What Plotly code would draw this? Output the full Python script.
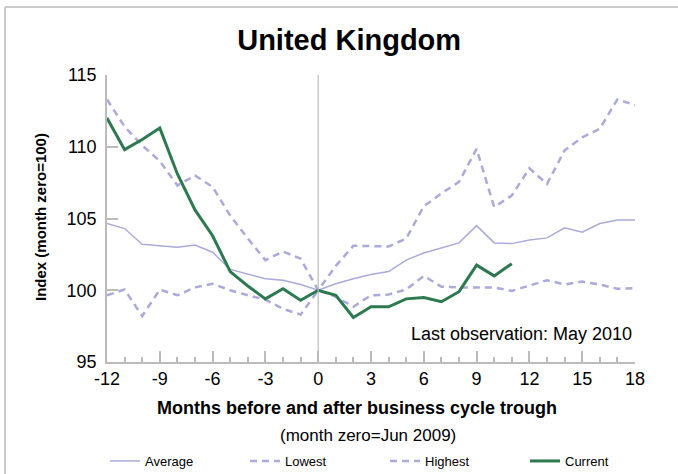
import plotly.graph_objects as go

months = list(range(-12, 19))
current_months = list(range(-12, 12))

average = [104.65, 104.3, 103.2, 103.1, 103.0, 103.15, 102.65, 101.45, 101.1, 100.8, 100.7, 100.4,
           100.0, 100.45, 100.8, 101.1, 101.3, 102.1, 102.6, 102.95, 103.3, 104.5, 103.3, 103.25,
           103.5, 103.65, 104.35, 104.05, 104.65, 104.9, 104.9]
lowest = [99.65, 100.05, 98.2, 100.05, 99.65, 100.2, 100.45, 100.0, 99.65, 99.35, 98.7, 98.3,
          100.0, 99.55, 98.85, 99.65, 99.7, 100.05, 101.0, 100.25, 100.2, 100.2, 100.2, 99.95,
          100.35, 100.7, 100.4, 100.6, 100.4, 100.1, 100.15]
highest = [113.3, 111.4, 110.1, 109.0, 107.3, 108.0, 107.2, 105.2, 103.6, 102.1, 102.7, 102.2,
           100.0, 101.7, 103.1, 103.1, 103.05, 103.6, 105.85, 106.75, 107.55, 109.85, 105.8, 106.6,
           108.5, 107.4, 109.75, 110.65, 111.25, 113.3, 112.9]
current = [112.0, 109.8, 110.5, 111.3, 108.1, 105.6, 103.8, 101.3, 100.3, 99.4, 100.1, 99.3,
           100.0, 99.65, 98.1, 98.85, 98.85, 99.4, 99.5, 99.2, 99.9, 101.75, 101.0, 101.85]

x_tickvals = list(range(-12, 19, 3))
x_ticktext = ["-12", "-9", "-6", "-3", "0", "3", "6", "9", "12", "15", "18"]
y_tickvals = [95, 100, 105, 110, 115]
y_ticktext = ["95", "100", "105", "110", "115"]

LAV = "#aaaadc"
GREEN = "#2e7a50"
AXC = "#bbbbbb"
FONT = "Liberation Sans, Arial, sans-serif"

# plot area in pixels
L, R, T, B = 107, 635, 75, 362
W, H = R - L, B - T


def px(xp):
    return (xp - L) / W


def py(yp):
    return (B - yp) / H


fig = go.Figure()
fig.add_trace(go.Scatter(x=months, y=average, name="Average", mode="lines",
                         line=dict(color=LAV, width=1.5)))
fig.add_trace(go.Scatter(x=months, y=lowest, name="Lowest", mode="lines",
                         line=dict(color=LAV, width=2.5, dash="7px,5px")))
fig.add_trace(go.Scatter(x=months, y=highest, name="Highest", mode="lines",
                         line=dict(color=LAV, width=2.5, dash="7px,5px")))
fig.add_trace(go.Scatter(x=current_months, y=current, name="Current", mode="lines",
                         line=dict(color=GREEN, width=3)))

fig.update_layout(
    width=678, height=474,
    margin=dict(l=L, r=678 - R, t=T, b=474 - B, autoexpand=False),
    paper_bgcolor="white", plot_bgcolor="white",
    font=dict(family=FONT, color="black", size=18),
    title=dict(text="<b>United Kingdom</b>", x=0.515, xanchor="center", xref="container",
               y=1 - 40 / 474, yanchor="middle", yref="container",
               font=dict(size=29, family=FONT)),
    showlegend=True,
    legend=dict(orientation="h", x=px(105), xanchor="left", y=py(461), yanchor="middle",
                font=dict(size=13), entrywidth=95, entrywidthmode="pixels", itemwidth=30,
                bgcolor="rgba(0,0,0,0)"),
    xaxis=dict(range=[-12, 18], tickvals=x_tickvals, ticktext=x_ticktext, ticks="inside", ticklen=11,
               tickcolor=AXC, tickwidth=1.5, showgrid=False, zeroline=False, showline=True,
               linecolor=AXC, linewidth=1.5, tickfont=dict(size=18), automargin=False,
               minor=dict(dtick=1, tick0=0, ticks="inside", ticklen=5, tickcolor=AXC, tickwidth=1.5,
                          showgrid=False)),
    yaxis=dict(range=[95, 115], tickvals=y_tickvals, ticktext=y_ticktext, ticks="inside", ticklen=11,
               tickcolor=AXC, tickwidth=1.5, showgrid=False, zeroline=False, showline=True,
               linecolor=AXC, linewidth=1.5, tickfont=dict(size=18), automargin=False,
               ticklabelstandoff=5),
)

fig.add_shape(type="line", xref="x", yref="paper", x0=0, x1=0, y0=0, y1=1,
              line=dict(color=AXC, width=1.2))
# outer frame (top and left edges)
fig.add_shape(type="line", xref="paper", yref="paper", x0=px(5), x1=px(700), y0=py(7), y1=py(7),
              line=dict(color="#cccccc", width=2))
fig.add_shape(type="line", xref="paper", yref="paper", x0=px(5), x1=px(5), y0=py(7), y1=py(500),
              line=dict(color="#cccccc", width=2))

fig.add_annotation(text="Last observation: May 2010", xref="paper", yref="paper", x=px(634), y=py(334),
                   xanchor="right", yanchor="middle", showarrow=False, font=dict(size=18))
fig.add_annotation(text="<b>Months before and after business cycle trough</b>", xref="paper", yref="paper",
                   x=px(357), y=py(408), xanchor="center", yanchor="middle", showarrow=False,
                   font=dict(size=18))
fig.add_annotation(text="(month zero=Jun 2009)", xref="paper", yref="paper",
                   x=px(368), y=py(435), xanchor="center", yanchor="middle", showarrow=False,
                   font=dict(size=17))
fig.add_annotation(text="<b>Index (month zero=100)</b>", xref="paper", yref="paper",
                   x=px(40), y=py(217), xanchor="center", yanchor="middle", textangle=-90,
                   showarrow=False, font=dict(size=15))

fig.write_html("out.html", config={"displayModeBar": False},
               post_script="document.body.style.margin='0';document.body.style.overflow='hidden';")
